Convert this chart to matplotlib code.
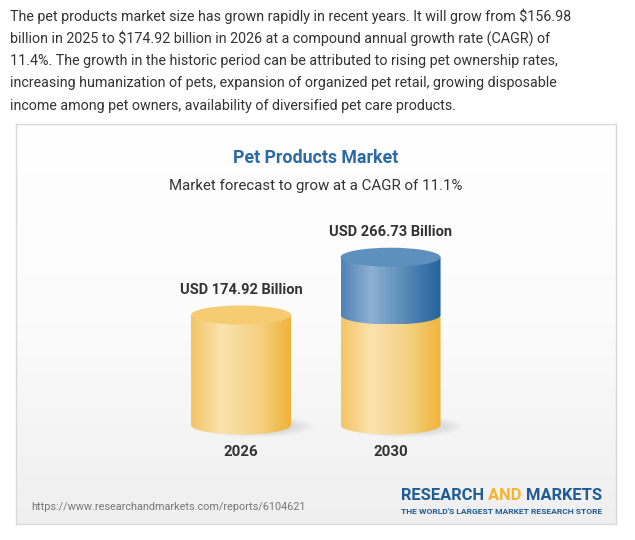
import numpy as np
import matplotlib.pyplot as plt
from matplotlib.patches import Ellipse, PathPatch
from matplotlib.path import Path
from matplotlib.colors import LinearSegmentedColormap

# data
years = ['2026', '2030']
base_values = [174.92, 174.92]
totals = [174.92, 266.73]
value_labels = ['USD 174.92 Billion', 'USD 266.73 Billion']
title = 'Pet Products Market'
subtitle = 'Market forecast to grow at a CAGR of 11.1%'
paragraph = [
    'The pet products market size has grown rapidly in recent years. It will grow from $156.98',
    'billion in 2025 to $174.92 billion in 2026 at a compound annual growth rate (CAGR) of',
    '11.4%. The growth in the historic period can be attributed to rising pet ownership rates,',
    'increasing humanization of pets, expansion of organized pet retail, growing disposable',
    'income among pet owners, availability of diversified pet care products.',
]
source_url = 'https://www.researchandmarkets.com/reports/6104621'

plt.rcParams['font.family'] = ['Roboto', 'DejaVu Sans']

W, H = 635, 540
fig = plt.figure(figsize=(W / 100, H / 100), dpi=100)
fig.patch.set_facecolor('white')


def fx(px):
    return px / W


def fy(py):
    return 1 - py / H


# paragraph above the card
for i, line in enumerate(paragraph):
    fig.text(fx(10), fy(16 + i * 22.4), line, fontsize=10.3, color='#333333',
             ha='left', va='center')

# card with soft vertical gradient
card = fig.add_axes([fx(16), fy(524), fx(600), (524 - 124) / H])
grad = np.linspace(0, 1, 256).reshape(-1, 1)
card_cmap = LinearSegmentedColormap.from_list('card', ['#ffffff', '#fbfbfb', '#efefef'])
card.imshow(grad, cmap=card_cmap, aspect='auto', extent=(0, 1, 0, 1), origin='upper')
card.set_xticks([])
card.set_yticks([])
for s in card.spines.values():
    s.set_color('#d9d9d9')
    s.set_linewidth(1.0)

fig.text(fx(316), fy(158), title, fontsize=12.8, fontweight='bold', color='#2b6aa5',
         ha='center', va='center')
fig.text(fx(316), fy(186), subtitle, fontsize=10.8, color='#333333',
         ha='center', va='center')

# chart axes, y in billions
ax = fig.add_axes([fx(141), fy(450), fx(350), 230 / H])
ax.set_xlim(-0.669, 1.672)
ax.set_ylim(-39.7, 325.9)
ax.axis('off')
ax.patch.set_alpha(0)

cyl_w = 0.669
eh = 15.1

yellow = LinearSegmentedColormap.from_list(
    'yel', [(0, '#f3c565'), (0.3, '#fae3b0'), (0.7, '#f5cf7c'), (1, '#efb237')])
blue = LinearSegmentedColormap.from_list(
    'blu', [(0, '#4e84b6'), (0.3, '#8db1d1'), (0.7, '#4f83b3'), (1, '#22619a')])
hgrad = np.linspace(0, 1, 256).reshape(1, -1)


def body(x, y0, y1, cmap):
    left, right = x - cyl_w / 2, x + cyl_w / 2
    t = np.linspace(np.pi, 2 * np.pi, 60)
    bx = x + cyl_w / 2 * np.cos(t)
    by = y0 + eh * np.sin(t)
    verts = [(left, y1)] + list(zip(bx, by)) + [(right, y1), (left, y1)]
    codes = [Path.MOVETO] + [Path.LINETO] * (len(verts) - 2) + [Path.CLOSEPOLY]
    patch = PathPatch(Path(verts, codes), facecolor='none', edgecolor='none')
    ax.add_patch(patch)
    im = ax.imshow(hgrad, cmap=cmap, aspect='auto',
                   extent=(left, right, y0 - eh, y1), zorder=2)
    im.set_clip_path(patch)


# soft shadows
for i in range(len(years)):
    for k in range(8):
        ax.add_patch(Ellipse((i + 0.1, -2), cyl_w * (1.15 - k * 0.05), eh * 2.4 - k * 2,
                             facecolor='#000000', alpha=0.012, edgecolor='none', zorder=1))

for i, yr in enumerate(years):
    body(i, 0, base_values[i], yellow)
    top = base_values[i]
    top_color = '#f5cc72'
    if totals[i] > base_values[i]:
        body(i, base_values[i], totals[i], blue)
        top = totals[i]
        top_color = '#5e90be'
    ax.add_patch(Ellipse((i, top), cyl_w, 2 * eh, facecolor=top_color,
                         edgecolor='none', zorder=3))
    ax.text(i, totals[i] + 40, value_labels[i], fontsize=10.5, fontweight='bold',
            color='#333333', ha='center', va='center')
    ax.text(i, -43, yr, fontsize=10.8, fontweight='bold', color='#333333',
            ha='center', va='center')

# footer
fig.text(fx(31), fy(507), source_url, fontsize=7.85, color='#777777',
         ha='left', va='center')
logo_font = ['Liberation Sans Narrow', 'Roboto', 'DejaVu Sans']
t1 = fig.text(fx(401), fy(496), 'RESEARCH ', fontsize=11.85, fontweight='bold',
              color='#1f5c96', ha='left', va='center', family=logo_font)
fig.canvas.draw()
bb = t1.get_window_extent()
t2 = fig.text(bb.x1 / W, fy(496), 'AND ', fontsize=11.85, fontweight='bold',
              color='#f2b531', ha='left', va='center', family=logo_font)
bb2 = t2.get_window_extent()
fig.text(bb2.x1 / W, fy(496), 'MARKETS', fontsize=11.85, fontweight='bold',
         color='#1f5c96', ha='left', va='center', family=logo_font)
fig.text(fx(401), fy(512), "THE WORLD'S LARGEST MARKET RESEARCH STORE", fontsize=6.1,
         fontweight='bold', color='#1f5c96', ha='left', va='center', family=logo_font)

fig.savefig('out.png', dpi=100)
